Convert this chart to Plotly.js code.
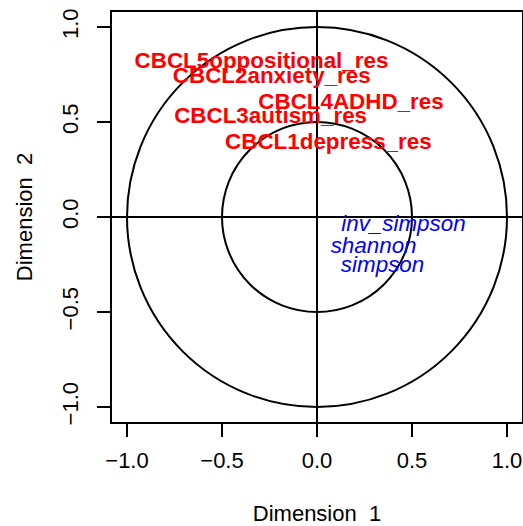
<!DOCTYPE html>
<html>
<head>
<meta charset="utf-8">
<script src="https://cdn.plot.ly/plotly-3.0.1.min.js"></script>
<style>html,body{margin:0;padding:0;background:#fff;}#plot{width:523px;height:526px;}</style>
</head>
<body>
<div id="plot"></div>
<script>
// Block X variables (red)
var xVarNames = ["CBCL5oppositional_res", "CBCL2anxiety_res", "CBCL4ADHD_res", "CBCL3autism_res", "CBCL1depress_res"];
var xVarDim1 = [-0.292, -0.238, 0.179, -0.244, 0.060];
var xVarDim2 = [0.815, 0.736, 0.596, 0.524, 0.388];
// Block Y variables (blue)
var yVarNames = ["inv_simpson", "shannon", "simpson"];
var yVarDim1 = [0.455, 0.298, 0.345];
var yVarDim2 = [-0.042, -0.161, -0.261];
// Axis ticks
var tickValues = [-1.0, -0.5, 0.0, 0.5, 1.0];
var tickLabels = ["\u22121.0", "\u22120.5", "0.0", "0.5", "1.0"];
var circleRadii = [1.0, 0.5];

var FONT = "'Liberation Sans', Arial, Helvetica, sans-serif";

var traces = [
  {
    x: xVarDim1, y: xVarDim2, text: xVarNames, mode: "text", type: "scatter",
    textposition: "middle center",
    textfont: {family: FONT, size: 22.4, color: "#ff0000", weight: "bold"},
    hoverinfo: "text", showlegend: false
  },
  {
    x: yVarDim1, y: yVarDim2, text: yVarNames, mode: "text", type: "scatter",
    textposition: "middle center",
    textfont: {family: FONT, size: 22.4, color: "#0000ff", style: "italic"},
    hoverinfo: "text", showlegend: false
  }
];

var shapes = circleRadii.map(function (r) {
  return {type: "circle", xref: "x", yref: "y", x0: -r, x1: r, y0: -r, y1: r,
          line: {color: "black", width: 2}, layer: "below"};
});
shapes.push({type: "line", xref: "paper", yref: "y", x0: 0, x1: 1, y0: 0, y1: 0, line: {color: "black", width: 2}, layer: "below"});
shapes.push({type: "line", xref: "x", yref: "paper", x0: 0, x1: 0, y0: 0, y1: 1, line: {color: "black", width: 2}, layer: "below"});

var axisCommon = {
  range: [-1.079, 1.079],
  tickmode: "array", tickvals: tickValues, ticktext: tickLabels,
  ticks: "outside", ticklen: 13, tickwidth: 2, tickcolor: "black",
  showgrid: false, zeroline: false,
  showline: true, linecolor: "black", linewidth: 2, mirror: true,
  tickfont: {family: FONT, size: 22, color: "#000"},
  fixedrange: true, automargin: false
};

var layout = {
  width: 523, height: 526,
  margin: {l: 112, r: 1, t: 12, b: 104, pad: 0},
  paper_bgcolor: "white", plot_bgcolor: "white",
  showlegend: false,
  xaxis: Object.assign({}, axisCommon, {
    ticklabelstandoff: 5,
    title: {text: "Dimension  1", font: {family: FONT, size: 22, color: "#000"}, standoff: 37}
  }),
  yaxis: Object.assign({}, axisCommon, {
    tickangle: -90,
    ticklabelstandoff: 10,
    title: {text: "Dimension  2", font: {family: FONT, size: 22, color: "#000"}, standoff: 20}
  }),
  shapes: shapes
};

Plotly.newPlot("plot", traces, layout, {displayModeBar: false, staticPlot: true});
</script>
</body>
</html>
